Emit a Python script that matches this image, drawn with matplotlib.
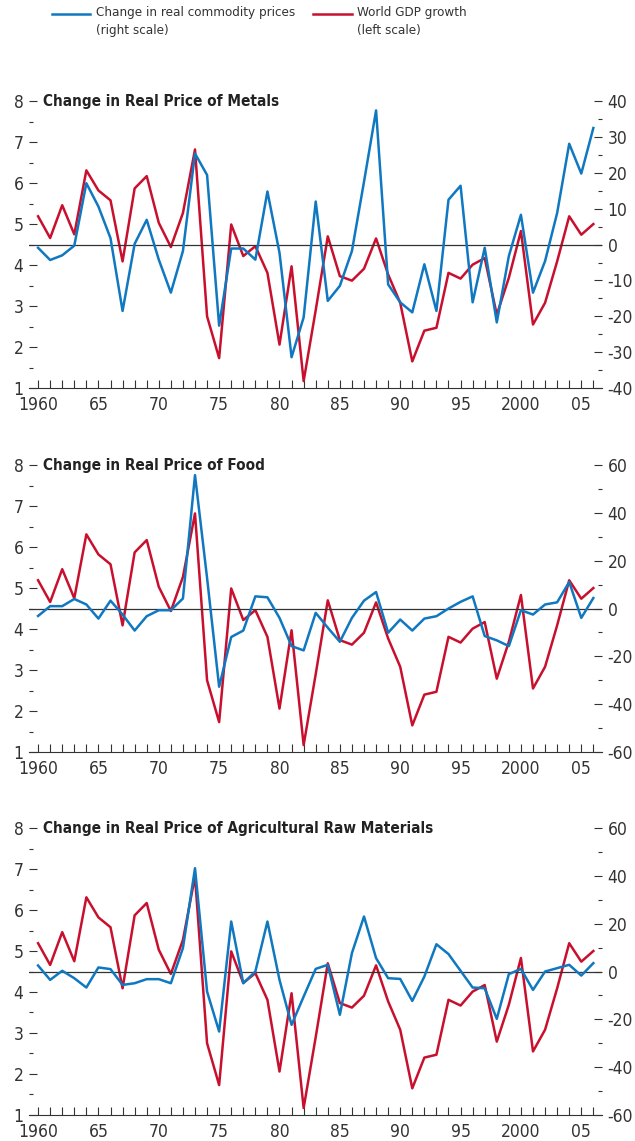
import matplotlib
matplotlib.use("Agg")
import matplotlib.pyplot as plt
from matplotlib.lines import Line2D
from matplotlib.ticker import MultipleLocator, FuncFormatter

plt.rcParams["font.family"] = ["DejaVu Sans"]
plt.rcParams["font.stretch"] = "condensed"
plt.rcParams["axes.unicode_minus"] = False

anos = list(range(1960, 2007))

# crescimento do PIB mundial (escala da esquerda)
pib = [5.19, 4.66, 5.46, 4.75, 6.31, 5.82, 5.58, 4.09, 5.87, 6.17,
       5.03, 4.44, 5.27, 6.82, 2.75, 1.73, 4.99, 4.22, 4.46, 3.81,
       2.06, 3.97, 1.17, 2.90, 4.70, 3.73, 3.62, 3.91, 4.65, 3.77,
       3.08, 1.65, 2.40, 2.47, 3.81, 3.67, 4.01, 4.17, 2.79, 3.69,
       4.83, 2.55, 3.08, 4.09, 5.19, 4.74, 5.00]

# variacao real dos precos (escala da direita)
metais = [-0.9, -4.3, -3.0, -0.3, 17.1, 10.6, 1.8, -18.5, 0.2, 6.9,
          -4.2, -13.4, -1.8, 25.4, 19.4, -22.6, -1.1, -1.1, -4.2, 14.8,
          -2.3, -31.4, -20.3, 12.0, -15.7, -11.5, -1.8, 17.5, 37.4, -11.1,
          -16.1, -18.9, -5.5, -18.5, 12.5, 16.4, -16.1, -0.9, -21.7, -3.2,
          8.3, -13.4, -4.6, 8.8, 28.1, 19.8, 32.5]

alimentos = [-3.1, 1.0, 1.0, 4.0, 1.7, -4.2, 3.3, -2.5, -9.2, -3.2,
             -0.7, -0.7, 4.2, 55.8, 12.8, -32.7, -11.9, -9.2, 5.1, 4.7,
             -3.9, -15.7, -17.5, -1.8, -8.0, -13.9, -3.9, 3.3, 6.9, -10.1,
             -4.6, -9.2, -4.2, -3.2, 0.0, 2.8, 5.1, -11.5, -13.3, -15.7,
             -0.7, -2.5, 1.7, 2.6, 11.1, -3.9, 4.4]

agricolas = [2.5, -3.5, 0.3, -2.8, -6.7, 1.7, 1.0, -5.6, -4.9, -3.2,
             -3.2, -4.9, 9.8, 43.2, -8.4, -25.1, 20.9, -4.9, 0.0, 20.9,
             -3.5, -22.3, -10.5, 1.1, 2.8, -18.1, 7.7, 23.0, 5.6, -2.8,
             -3.1, -12.3, -2.1, 11.4, 7.3, 0.3, -6.7, -7.0, -19.8, -1.1,
             1.1, -7.7, 0.0, 1.4, 2.8, -1.7, 3.5]

paineis = [
    ("Change in Real Price of Metals", metais, 40, 10, 0.6599),
    ("Change in Real Price of Food", alimentos, 60, 20, 0.3409),
    ("Change in Real Price of Agricultural Raw Materials", agricolas, 60, 20, 0.0228),
]

azul = "#0f78c0"
vermelho = "#c8102e"
cinza = "#333333"

fig = plt.figure(figsize=(6.35, 11.41), dpi=100)


def rotulo_ano(v, pos):
    v = int(round(v))
    if v in (1960, 2000):
        return str(v)
    return f"{v % 100:02d}"


for titulo, serie, lim, passo, base in paineis:
    ax = fig.add_axes([0.0457, base, 0.9024, 0.2515])
    ax2 = ax.twinx()

    ax.plot(anos, pib, color=vermelho, lw=1.8)
    ax2.axhline(0, color=cinza, lw=0.9)
    ax2.plot(anos, serie, color=azul, lw=1.8)

    ax.set_xlim(1959.25, 2006.72)
    ax.set_ylim(1, 8)
    ax2.set_ylim(-lim, lim)

    for a in (ax, ax2):
        for lado in ("top", "left", "right"):
            a.spines[lado].set_visible(False)
    ax.spines["bottom"].set_color(cinza)
    ax2.spines["bottom"].set_visible(False)

    ax.yaxis.set_major_locator(MultipleLocator(1))
    ax.yaxis.set_minor_locator(MultipleLocator(0.5))
    ax2.yaxis.set_major_locator(MultipleLocator(passo))
    ax2.yaxis.set_minor_locator(MultipleLocator(passo / 2))
    ax.xaxis.set_major_locator(MultipleLocator(5))
    ax.xaxis.set_minor_locator(MultipleLocator(1))
    ax.xaxis.set_major_formatter(FuncFormatter(rotulo_ano))

    ax.tick_params(axis="y", which="major", direction="in", length=6, width=0.8,
                   color=cinza, labelsize=12.5, labelcolor=cinza, pad=4)
    ax.tick_params(axis="y", which="minor", direction="in", length=3, width=0.8, color=cinza)
    ax2.tick_params(axis="y", which="major", direction="in", length=6, width=0.8,
                    color=cinza, labelsize=12.5, labelcolor=cinza, pad=4)
    ax2.tick_params(axis="y", which="minor", direction="in", length=3, width=0.8, color=cinza)
    ax.tick_params(axis="x", which="both", direction="in", length=6, width=0.8,
                   color=cinza, labelsize=12.5, labelcolor=cinza, pad=6)

    ax.text(0.024, 1.0, titulo, transform=ax.transAxes, ha="left", va="center",
            fontsize=11, fontweight="bold", color="#222222")

# legenda no topo
fig.add_artist(Line2D([0.082, 0.142], [0.9877, 0.9877], color=azul, lw=1.8,
                      transform=fig.transFigure))
fig.text(0.151, 0.9945, "Change in real commodity prices\n(right scale)",
         ha="left", va="top", fontsize=9.6, color=cinza, linespacing=1.45)
fig.add_artist(Line2D([0.493, 0.554], [0.9877, 0.9877], color=vermelho, lw=1.8,
                      transform=fig.transFigure))
fig.text(0.562, 0.9945, "World GDP growth\n(left scale)",
         ha="left", va="top", fontsize=9.6, color=cinza, linespacing=1.45)

fig.savefig("out.png", dpi=100)
